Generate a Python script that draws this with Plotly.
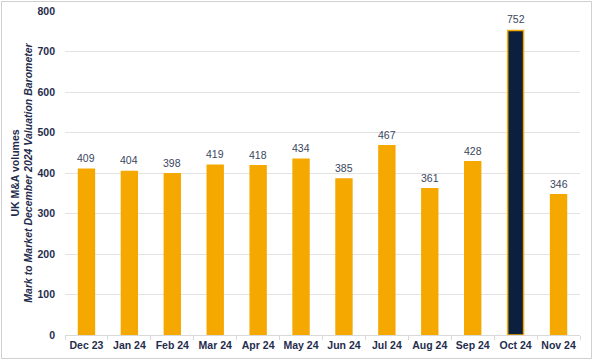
import plotly.graph_objects as go

months = ["Dec 23", "Jan 24", "Feb 24", "Mar 24", "Apr 24", "May 24", "Jun 24",
          "Jul 24", "Aug 24", "Sep 24", "Oct 24", "Nov 24"]
volumes = [409, 404, 398, 419, 418, 434, 385, 467, 361, 428, 752, 346]
highlight = "Oct 24"

ORANGE = "#F5A800"
NAVY = "#0B1F3F"
TEXT = "#1F2D4D"

colors = [NAVY if m == highlight else ORANGE for m in months]

W, H = 593, 360
L, R, T, B = 65, 13, 11, 25

fig = go.Figure(go.Bar(
    x=months, y=volumes,
    marker=dict(color=colors, line=dict(color=ORANGE, width=1.5)),
    hoverinfo="x+y",
))

for m, v in zip(months, volumes):
    fig.add_annotation(x=m, y=v, text=str(v), showarrow=False,
                       yanchor="bottom", yshift=3,
                       font=dict(family="Arial", size=10.5, color="#3A4660"))

pw, ph = W - L - R, H - T - B
fig.add_shape(type="rect", xref="paper", yref="paper",
              x0=-(L - 1.5) / pw, x1=1 + (R - 1.5) / pw,
              y0=-(B - 1.5) / ph, y1=1 + (T - 1.5) / ph,
              line=dict(color="#D0D0D0", width=1), layer="below")

fig.update_layout(
    width=W, height=H,
    margin=dict(l=L, r=R, t=T, b=B, autoexpand=False),
    plot_bgcolor="white", paper_bgcolor="white",
    bargap=0.63, showlegend=False,
    font=dict(family="Arial", color=TEXT),
)
fig.update_xaxes(
    showline=True, linecolor="#D9D9D9", linewidth=1, tickangle=0,
    ticks="outside", tickson="boundaries", tickcolor="#D9D9D9", ticklen=4,
    tickfont=dict(family="Arial", size=10.5, color=TEXT, weight="bold"),
    showgrid=False, automargin=False,
)
fig.update_yaxes(
    range=[0, 800], dtick=100, showgrid=True, gridcolor="#E3E3E3", gridwidth=1,
    zeroline=False, ticks="", ticklabelstandoff=9, automargin=False,
    tickfont=dict(family="Arial", size=10.5, color=TEXT, weight="bold"),
    title=dict(text="<b>UK M&A volumes</b><br><b><i>Mark to Market December 2024 Valuation Barometer</i></b>",
               font=dict(family="Arial", size=10.5, color=TEXT), standoff=2),
)

fig.write_html("out.html", config={"displayModeBar": False},
               post_script="document.body.style.margin='0';")
